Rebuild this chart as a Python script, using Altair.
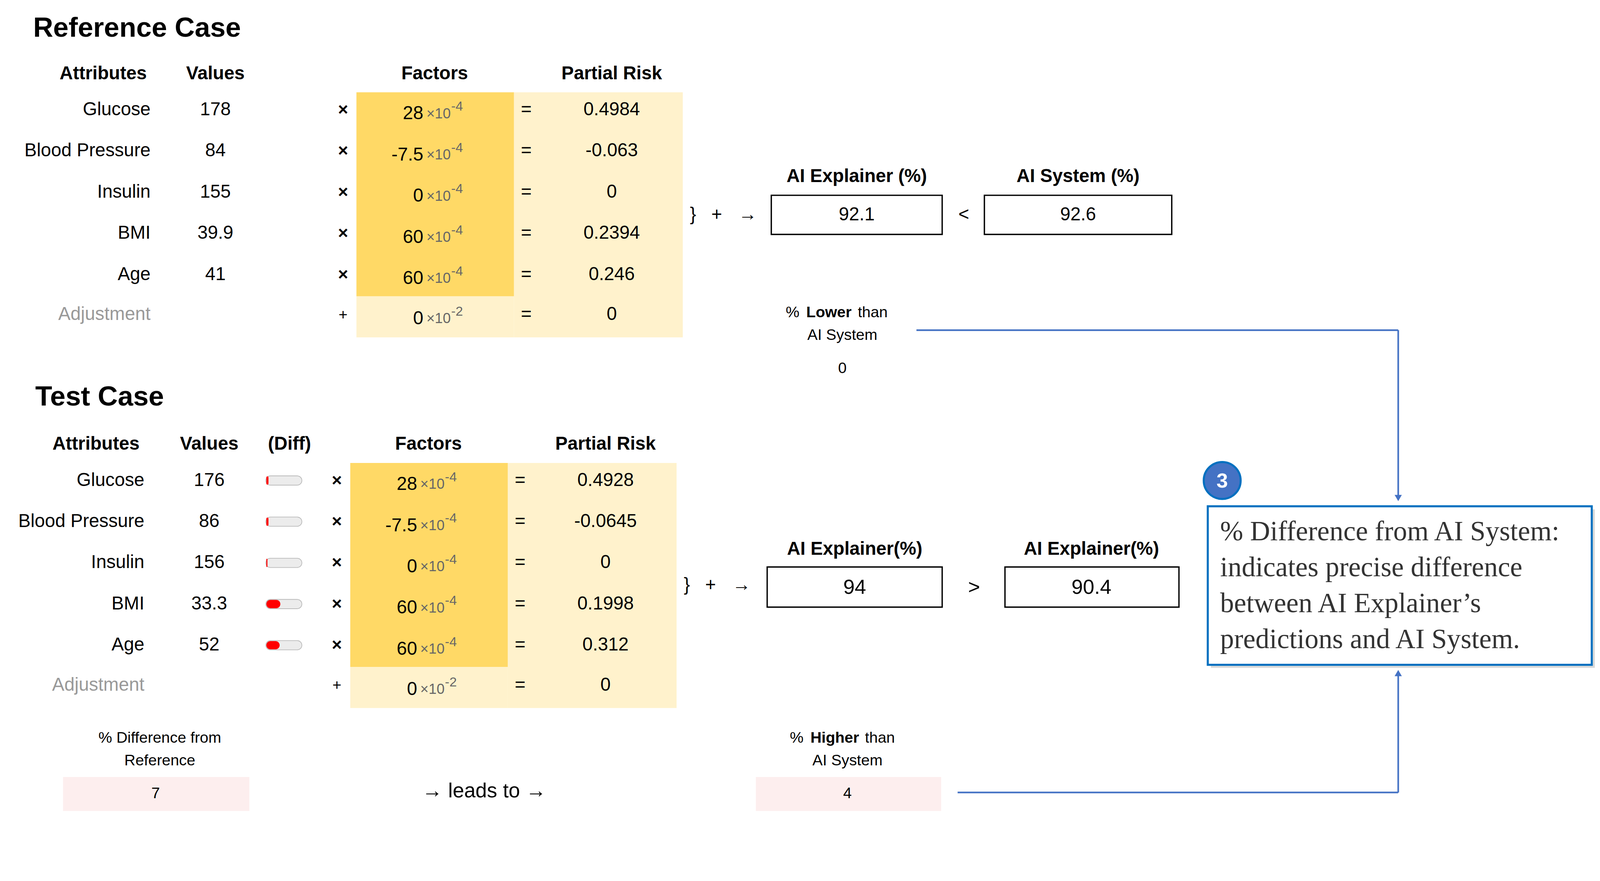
import pandas as pd
import altair as alt

# ---- data ----
ref_attrs = ["Glucose", "Blood Pressure", "Insulin", "BMI", "Age"]
ref_values = ["178", "84", "155", "39.9", "41"]
ref_factors = ["28", "-7.5", "0", "60", "60"]
ref_partial = ["0.4984", "-0.063", "0", "0.2394", "0.246"]
ref_adj_factor, ref_adj_partial = "0", "0"
ref_explainer, ref_system, ref_sign = "92.1", "92.6", "<"
ref_lower = "0"

test_attrs = ["Glucose", "Blood Pressure", "Insulin", "BMI", "Age"]
test_values = ["176", "86", "156", "33.3", "52"]
test_diff = [0.06, 0.06, 0.03, 0.4, 0.38]
test_factors = ["28", "-7.5", "0", "60", "60"]
test_partial = ["0.4928", "-0.0645", "0", "0.1998", "0.312"]
test_adj_factor, test_adj_partial = "0", "0"
test_explainer, test_system, test_sign = "94", "90.4", ">"
diff_from_ref, higher_than_sys = "7", "4"

callout_lines = ["% Difference from AI System:", "indicates precise difference",
                 "between AI Explainer\u2019s", "predictions and AI System."]

S = 4456 / 1560  # layout units -> pixels
W, H = 4440, 2239
OFF = 34  # vertical correction seen in the first render
xs = alt.Scale(domain=[8 / S, (8 + W) / S * 0.996], nice=False, zero=False)
ys = alt.Scale(domain=[8 / S + OFF, (8 + H) / S * 0.996 + OFF], nice=False, zero=False,
               reverse=True)
FONT = "Liberation Sans"

layers = []


def enc(**kw):
    out = {}
    for k, v in kw.items():
        if k in ("x", "x2"):
            out[k] = alt.X(v, scale=xs, axis=None) if k == "x" else alt.X2(v)
        elif k in ("y", "y2"):
            out[k] = alt.Y(v, scale=ys, axis=None) if k == "y" else alt.Y2(v)
    return out


def texts(rows, size, color="#000", align="center", weight="normal", font=FONT):
    df = pd.DataFrame(rows, columns=["x", "y", "t"])
    layers.append(alt.Chart(df).mark_text(
        align=align, baseline="middle", fontSize=size * S, color=color,
        fontWeight=weight, font=font).encode(text="t:N", **enc(x="x:Q", y="y:Q")))


def rects(rows, fill, stroke=None, sw=0, radius=0):
    df = pd.DataFrame(rows, columns=["x", "x2", "y", "y2"])
    kw = dict(fill=fill, cornerRadius=radius * S)
    if stroke:
        kw.update(stroke=stroke, strokeWidth=sw * S)
    layers.append(alt.Chart(df).mark_rect(**kw).encode(
        **enc(x="x:Q", x2="x2:Q", y="y:Q", y2="y2:Q")))


def rules(rows, color="#4472c4", sw=1.6):
    df = pd.DataFrame(rows, columns=["x", "x2", "y", "y2"])
    layers.append(alt.Chart(df).mark_rule(color=color, strokeWidth=sw * S).encode(
        **enc(x="x:Q", x2="x2:Q", y="y:Q", y2="y2:Q")))


def case_block(top, d, attrs, values, factors, partial, adj_f, adj_p, diff=None):
    rows_y = [top + 40 * i for i in range(5)]
    adj_y = top + 199
    box_top, dark_bot, light_bot = top - 17, top + 181, top + 221
    fx0, fx1, px1 = 346 - d, 499 - d, 663 - d
    rects([(fx1, px1, box_top, light_bot), (fx0, fx1, dark_bot, light_bot)], "#fff2cc")
    rects([(fx0, fx1, box_top, dark_bot)], "#ffd966")
    hy = top - 35
    texts([(100 - d if diff is None else 93, hy, "Attributes"),
           (209 - d, hy, "Values"), (422 - d, hy, "Factors"),
           (594 - d, hy, "Partial Risk")] + ([(281, hy, "(Diff)")] if diff else []),
          18, weight="bold")
    texts([(146 - d, y, a) for a, y in zip(attrs, rows_y)], 18, align="right")
    texts([(146 - d, adj_y, "Adjustment")], 18, color="#999", align="right")
    texts([(209 - d, y, v) for v, y in zip(values, rows_y)], 18)
    texts([(333 - d, y, "\u00d7") for y in rows_y], 17, weight="bold")
    texts([(333 - d, adj_y, "+")], 15)
    texts([(511 - d, y, "=") for y in rows_y + [adj_y]], 18)
    texts([(411 - d, y + 4, f) for f, y in zip(factors, rows_y)]
          + [(411 - d, adj_y + 4, adj_f)], 18, align="right")
    texts([(414 - d, y + 4, "\u00d710") for y in rows_y + [adj_y]], 14,
          color="#666", align="left")
    texts([(438 - d, y - 3, "-4") for y in rows_y] + [(438 - d, adj_y - 3, "-2")],
          13, color="#666", align="left")
    texts([(594 - d, y, p) for p, y in zip(partial, rows_y)]
          + [(594 - d, adj_y, adj_p)], 18)
    mid = top + 102
    texts([(673 - d, mid, "}"), (696 - d, mid, "+"), (726 - d, mid, "\u2192")], 18)
    return rows_y


# ---- Reference case ----
texts([(32, 27, "Reference Case")], 27, weight="bold", align="left")
case_block(106, 0, ref_attrs, ref_values, ref_factors, ref_partial,
           ref_adj_factor, ref_adj_partial)
rects([(749, 915, 189, 227), (956, 1138, 189, 227)], "#fff", "#000", 1.3)
texts([(832, 171, "AI Explainer (%)"), (1047, 171, "AI System (%)")], 18, weight="bold")
texts([(832, 208, ref_explainer), (1047, 208, ref_system), (936, 208, ref_sign)], 18)
texts([(763, 303, "%")], 15, align="left")
texts([(783, 303, "Lower")], 15, align="left", weight="bold")
texts([(833, 303, "than")], 15, align="left")
texts([(818, 325, "AI System"), (818, 357, ref_lower)], 15)

# ---- Test case ----
texts([(34, 385, "Test Case")], 27, weight="bold", align="left")
rows_y = case_block(466, 6, test_attrs, test_values, test_factors, test_partial,
                    test_adj_factor, test_adj_partial, diff=test_diff)
rects([(258, 293, y - 4.5, y + 4.5) for y in rows_y], "#ececec", "#bbb", 0.7, 4.5)
rects([(258.5, 258.5 + 34 * f, y - 4, y + 4) for f, y in zip(test_diff, rows_y)],
      "#ff0000", None, 0, 4)
rects([(745, 915, 550, 589), (976, 1145, 550, 589)], "#fff", "#000", 1.3)
texts([(830, 533, "AI Explainer(%)"), (1060, 533, "AI Explainer(%)")], 18, weight="bold")
texts([(830, 570, test_explainer), (1060, 570, test_system), (946, 570, test_sign)], 20)

rects([(61, 242, 754, 787), (734, 914, 754, 787)], "#fdeeee")
texts([(155, 716, "% Difference from"), (155, 738, "Reference"),
       (823, 738, "AI System")], 15)
texts([(767, 716, "%")], 15, align="left")
texts([(787, 716, "Higher")], 15, align="left", weight="bold")
texts([(840, 716, "than")], 15, align="left")
texts([(151, 770, diff_from_ref), (823, 770, higher_than_sys)], 15)
texts([(470, 768, "\u2192 leads to \u2192")], 20)

# ---- connectors and callout ----
rules([(890, 1358, 320, 320), (1358, 1358, 320, 482),
       (930, 1358, 769, 769), (1358, 1358, 655, 769)])
arrows = pd.DataFrame({"x": [1358, 1358], "y": [483, 653],
                       "s": ["triangle-down", "triangle-up"]})
layers.append(alt.Chart(arrows).mark_point(filled=True, color="#4472c4", opacity=1,
                                           size=(10 * S) ** 2 / 2).encode(
    shape=alt.Shape("s:N", scale=None), **enc(x="x:Q", y="y:Q")))

rects([(1176, 1549, 494, 648)], "#d9d9d9")
rects([(1173, 1546, 491, 645)], "#fff", "#0070c0", 2)
texts([(1185, 516 + 35 * i, line) for i, line in enumerate(callout_lines)], 27,
      color="#333", align="left", font="Liberation Serif")

badge = pd.DataFrame({"x": [1187], "y": [466]})
layers.append(alt.Chart(badge).mark_point(filled=True, fill="#4472c4", stroke="#0070c0",
                                          strokeWidth=2 * S, opacity=1,
                                          size=(36 * S) ** 2).encode(**enc(x="x:Q", y="y:Q")))
texts([(1187, 467, "3")], 20, color="#fff", weight="bold")

chart = alt.layer(*layers).properties(width=W, height=H, padding=0, autosize="none") \
    .configure_view(stroke=None)
chart.save("out.html", embed_options={"renderer": "svg", "actions": False})
